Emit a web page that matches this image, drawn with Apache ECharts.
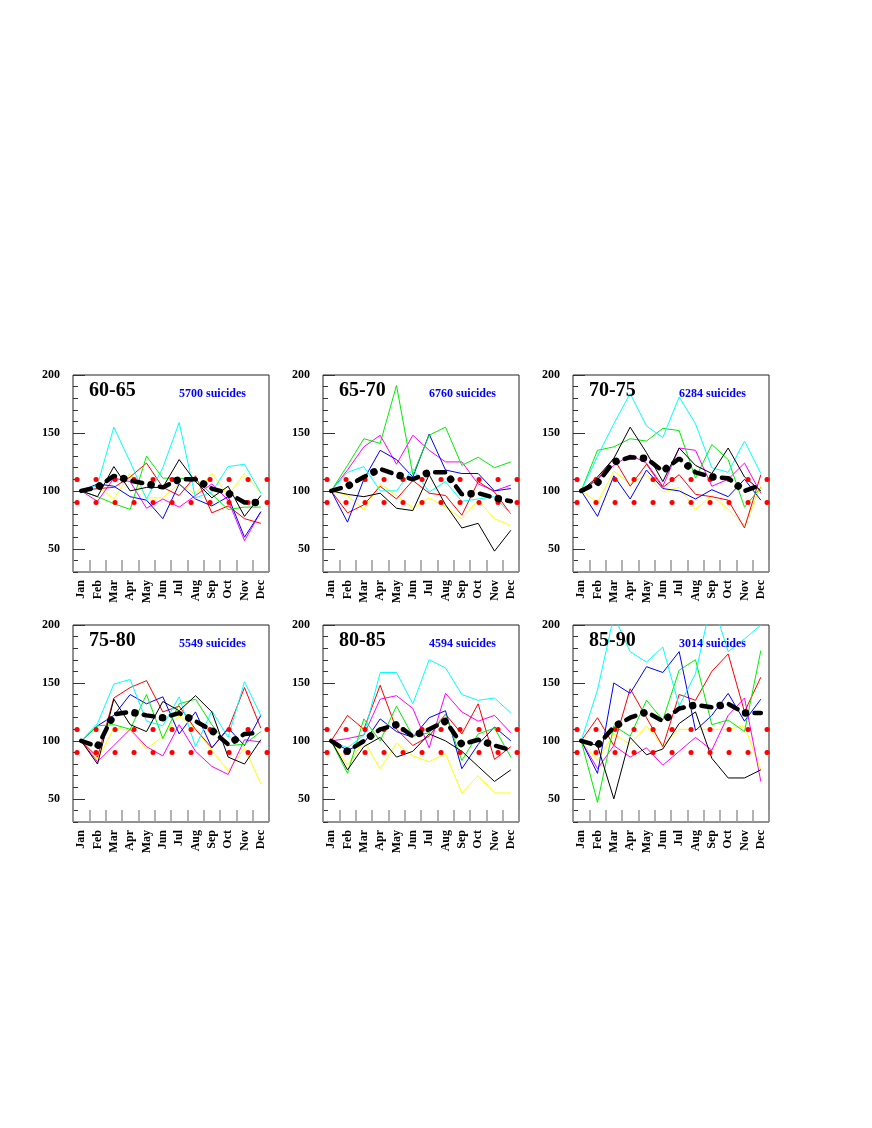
<!DOCTYPE html>
<html>
<head>
<meta charset="utf-8">
<script src="https://cdn.jsdelivr.net/npm/echarts@6/dist/echarts.min.js"></script>
<style>
html, body { margin: 0; padding: 0; background: #fff; }
#main { width: 872px; height: 1128px; }
</style>
</head>
<body>
<div id="main"></div>
<script>
// month categories + panel labels
var months = ['Jan', 'Feb', 'Mar', 'Apr', 'May', 'Jun', 'Jul', 'Aug', 'Sep', 'Oct', 'Nov', 'Dec'];
var periods = ['60-65', '65-70', '70-75', '75-80', '80-85', '85-90'];
var suicides = [5700, 6760, 6284, 5549, 4594, 3014];
var refLevels = [90, 110];
var yLabelValues = [50, 100, 150, 200];

// one row per panel (60-65 ... 85-90)
var cyanVals = [
    [100, 105, 155, 125, 93, 120, 159, 94, 99, 121, 123, 98],
    [100, 116, 121, 100, 100, 119, 99, 108, 91, 93, 95, 80],
    [100, 130, 158, 184, 156, 146, 181, 158, 120, 116, 143, 115],
    [100, 115, 149, 153, 117, 113, 138, 95, 126, 103, 151, 122],
    [100, 94, 105, 159, 159, 132, 170, 163, 140, 135, 137, 124],
    [100, 144, 208, 177, 168, 181, 130, 158, 222, 177, 188, 200]
];
var greenVals = [
    [100, 95, 89, 84, 130, 111, 111, 110, 97, 84, 86, 86],
    [100, 122, 145, 141, 191, 114, 148, 155, 122, 129, 120, 125],
    [100, 135, 138, 145, 143, 154, 152, 111, 140, 127, 86, 103],
    [100, 113, 114, 110, 140, 102, 132, 136, 114, 96, 97, 108],
    [100, 72, 119, 100, 130, 104, 107, 123, 83, 106, 111, 86],
    [100, 47, 113, 104, 135, 118, 161, 170, 114, 118, 108, 178]
];
var blueVals = [
    [100, 106, 104, 95, 92, 76, 106, 93, 87, 95, 60, 82],
    [100, 73, 110, 135, 127, 112, 149, 118, 115, 115, 100, 102],
    [100, 78, 113, 93, 118, 102, 100, 93, 101, 95, 110, 92],
    [100, 113, 122, 140, 132, 138, 106, 125, 94, 111, 96, 122],
    [100, 92, 98, 119, 108, 103, 120, 126, 76, 97, 112, 100],
    [100, 72, 150, 141, 164, 159, 177, 109, 122, 141, 117, 136]
];
var redVals = [
    [100, 102, 103, 112, 124, 103, 96, 113, 81, 87, 76, 72],
    [100, 81, 88, 104, 93, 109, 98, 96, 79, 108, 99, 80],
    [100, 110, 128, 104, 123, 103, 114, 97, 95, 92, 68, 114],
    [100, 86, 137, 146, 152, 125, 130, 110, 94, 110, 146, 111],
    [100, 122, 110, 148, 110, 96, 104, 123, 106, 132, 84, 95],
    [100, 120, 96, 145, 120, 95, 140, 135, 160, 175, 125, 155]
];
var magentaVals = [
    [100, 91, 111, 108, 85, 93, 86, 96, 106, 92, 57, 82],
    [100, 118, 138, 148, 123, 148, 135, 125, 125, 106, 100, 105],
    [100, 110, 122, 131, 124, 104, 137, 135, 104, 110, 124, 98],
    [100, 82, 96, 110, 95, 87, 114, 91, 78, 71, 101, 99],
    [100, 102, 105, 136, 139, 128, 94, 141, 125, 117, 122, 107],
    [100, 76, 96, 86, 94, 79, 91, 103, 92, 122, 137, 65]
];
var yellowVals = [
    [100, 104, 93, 115, 94, 94, 106, 97, 115, 96, 115, 98],
    [100, 96, 84, 106, 96, 85, 94, 86, 76, 92, 76, 70],
    [100, 90, 117, 106, 114, 99, 103, 84, 96, 84, 70, 104],
    [100, 84, 111, 109, 93, 104, 122, 110, 92, 74, 94, 63],
    [100, 79, 100, 76, 98, 87, 82, 89, 55, 70, 55, 55],
    [100, 83, 106, 97, 113, 96, 110, 110, 110, 110, 113, 75]
];
var blackVals = [
    [100, 95, 121, 100, 103, 103, 127, 108, 94, 104, 78, 96],
    [100, 97, 95, 98, 85, 83, 114, 88, 68, 72, 48, 66],
    [100, 112, 128, 155, 133, 108, 137, 122, 115, 137, 112, 100],
    [100, 80, 136, 114, 108, 134, 126, 139, 125, 86, 80, 101],
    [100, 75, 95, 103, 86, 91, 106, 100, 91, 78, 65, 75],
    [100, 96, 50, 103, 88, 93, 115, 125, 85, 68, 68, 75]
];
// thick dash-dot average
var meanVals = [
    [100, 103, 113, 109, 106, 103, 110, 110, 102, 98, 90, 90],
    [100, 104, 112, 119, 114, 110, 116, 116, 97, 98, 94, 91],
    [100, 107, 125, 129, 128, 117, 128, 116, 112, 111, 100, 105],
    [100, 95, 123, 125, 122, 120, 124, 117, 109, 97, 106, 107],
    [100, 91, 100, 110, 114, 104, 110, 117, 97, 101, 96, 92],
    [100, 96, 112, 120, 125, 117, 128, 131, 129, 132, 124, 124]
];

var lineSets = [
    { vals: yellowVals, color: '#ffff00' },
    { vals: magentaVals, color: '#ff00ff' },
    { vals: redVals, color: '#ff0000' },
    { vals: blueVals, color: '#0000ff' },
    { vals: greenVals, color: '#00ee00' },
    { vals: cyanVals, color: '#00ffff' },
    { vals: blackVals, color: '#000000' }
];

var serif = '"Liberation Serif", "DejaVu Serif", serif';
var grids = [], xAxes = [], yAxes = [], series = [], titles = [];

for (var i = 0; i < periods.length; i++) {
    var gx = 73 + (i % 3) * 250;
    var gy = 375 + Math.floor(i / 3) * 250;

    grids.push({ left: gx, top: gy, width: 196, height: 197, show: true,
        borderColor: '#222', borderWidth: 1, backgroundColor: 'transparent' });

    xAxes.push({
        gridIndex: i, type: 'category', data: months, boundaryGap: true,
        axisLine: { show: false },
        axisTick: { show: true, inside: true, length: 12, interval: 0, lineStyle: { color: '#999', width: 1.5 } },
        axisLabel: { interval: 0, rotate: 90, margin: 8, color: '#000', fontSize: 12,
            fontWeight: 'bold', fontFamily: serif },
        splitLine: { show: false }
    });

    // main axis: minor ticks every 10 and the labels
    yAxes.push({
        gridIndex: i, type: 'value', min: 30, max: 200, interval: 10,
        axisLine: { show: false },
        axisTick: { show: true, inside: true, length: 5, lineStyle: { color: '#333' } },
        axisLabel: { margin: 13, color: '#000', fontSize: 12, fontWeight: 'bold', fontFamily: serif,
            formatter: function (v) { return yLabelValues.indexOf(v) >= 0 ? String(v) : ''; } },
        splitLine: { show: false }
    });
    // second axis only for the long ticks
    yAxes.push({
        gridIndex: i, type: 'value', min: 30, max: 200, interval: 10, position: 'left',
        axisLine: { show: false },
        axisTick: { show: true, inside: true, length: 12, customValues: yLabelValues, lineStyle: { color: '#333' } },
        axisLabel: { show: false },
        splitLine: { show: false }
    });

    lineSets.forEach(function (s, k) {
        var ser = {
            type: 'line', xAxisIndex: i, yAxisIndex: 2 * i, data: s.vals[i],
            symbol: 'none', silent: true, clip: true,
            lineStyle: { color: s.color, width: 1 }
        };
        if (k === lineSets.length - 1) {
            // red dotted reference lines at 90 and 110
            ser.markLine = {
                silent: true, symbol: ['none', 'none'], label: { show: false },
                data: refLevels.map(function (v) { return { yAxis: v }; }),
                lineStyle: { color: '#ff0000', width: 5, type: [0.1, 18.9], cap: 'round', dashOffset: 15 }
            };
        }
        series.push(ser);
    });

    // average: long dashes, then the big dots in the gaps (same path, same pattern length)
    series.push({
        type: 'line', xAxisIndex: i, yAxisIndex: 2 * i, data: meanVals[i],
        symbol: 'none', silent: true, z: 5,
        lineStyle: { color: '#000', width: 4.5, type: [10, 18], cap: 'round' }
    });
    series.push({
        type: 'line', xAxisIndex: i, yAxisIndex: 2 * i, data: meanVals[i],
        symbol: 'none', silent: true, z: 5,
        lineStyle: { color: '#000', width: 7.5, type: [0.1, 27.9], cap: 'round', dashOffset: 9 }
    });

    titles.push({ text: periods[i], left: gx + 16, top: gy + 6, padding: 0,
        textStyle: { fontSize: 20, fontWeight: 'bold', fontFamily: serif, color: '#000' } });
    titles.push({ text: suicides[i] + ' suicides', left: gx + 106, top: gy + 13, padding: 0,
        textStyle: { fontSize: 12, fontWeight: 'bold', fontFamily: serif, color: '#0000ff' } });
}

var myChart = echarts.init(document.getElementById('main'), null, { renderer: 'canvas' });
myChart.setOption({
    animation: false,
    backgroundColor: '#fff',
    title: titles,
    grid: grids,
    xAxis: xAxes,
    yAxis: yAxes,
    series: series
});
</script>
</body>
</html>
